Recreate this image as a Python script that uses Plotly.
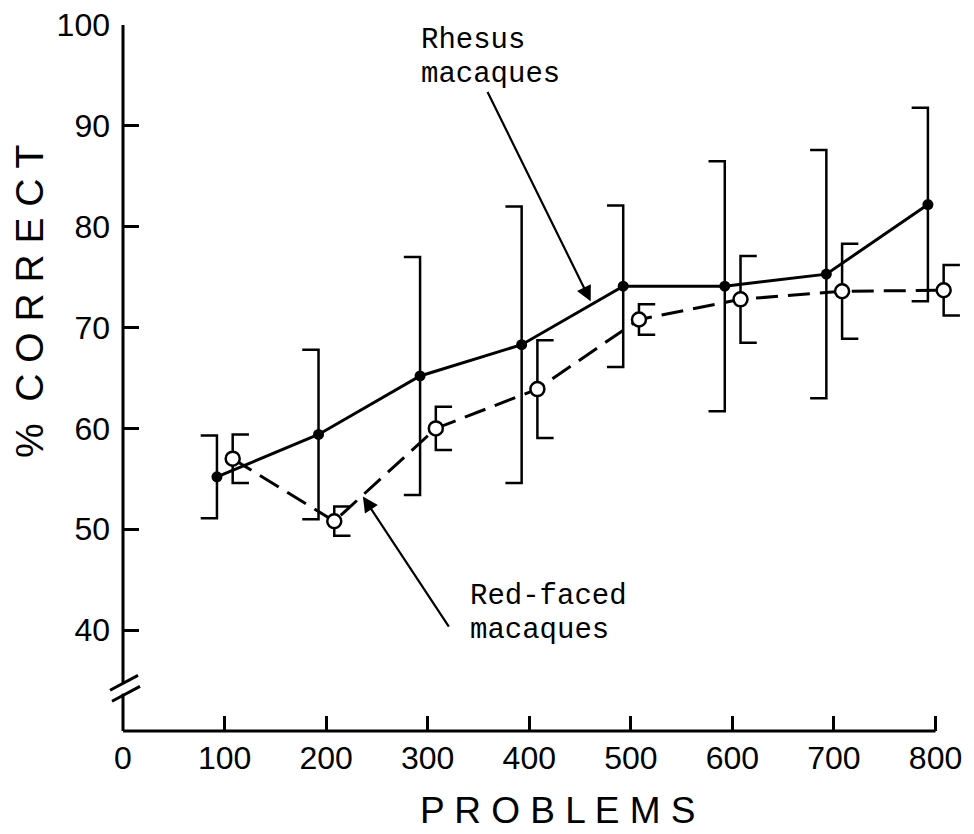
import plotly.graph_objects as go

# ---------------- data ----------------
problems = [100, 200, 300, 400, 500, 600, 700, 800]
rhesus_mean = [55.2, 59.4, 65.2, 68.3, 74.1, 74.1, 75.3, 82.2]
rhesus_err = [4.1, 8.4, 11.8, 13.7, 8.0, 12.4, 12.3, 9.6]
redfaced_mean = [57.0, 50.8, 60.0, 63.9, 70.8, 72.8, 73.6, 73.7]
redfaced_err = [2.4, 1.45, 2.15, 4.85, 1.5, 4.3, 4.7, 2.5]
x_tick_vals = [0, 100, 200, 300, 400, 500, 600, 700, 800]
x_tick_text = ["0", "100", "200", "300", "400", "500", "600", "700", "800"]
y_tick_vals = [40, 50, 60, 70, 80, 90, 100]
y_tick_text = ["40", "50", "60", "70", "80", "90", "100"]

# ---------------- style / geometry ----------------
XR = [0, 830]
YR = [30, 100]
ML, MR, MT, MB = 123, 7.5, 20, 103
W, H = 974, 834
PW = W - ML - MR
PH = H - MT - MB
RHESUS_SHIFT = -7.5   # horizontal display offsets so the two series don't overlap
RED_SHIFT = 8
CAP = 16

TICKFONT = dict(family="Liberation Sans, Arial, sans-serif", size=32, color="black")
MONO = dict(family="Liberation Mono, Courier New, monospace", size=29, color="black")
XTITLEFONT = dict(family="Liberation Sans, Arial, sans-serif", size=37, color="black")
YTITLEFONT = dict(family="Liberation Sans, Arial, sans-serif", size=39, color="black")


def xpaper(v):
    return (v - XR[0]) / (XR[1] - XR[0])


def ypaper(v):
    return (v - YR[0]) / (YR[1] - YR[0])


def px_x(p):
    return (p - ML) / PW


def px_y(p):
    return (H - MB - p) / PH


def bracket(xs, ys, es, cap):
    bx, by = [], []
    for x, y, e in zip(xs, ys, es):
        bx += [x + cap, x, x, x + cap, None]
        by += [y + e, y + e, y - e, y - e, None]
    return bx, by


rx = [p + RHESUS_SHIFT for p in problems]
fx = [p + RED_SHIFT for p in problems]

fig = go.Figure()

bx, by = bracket(rx, rhesus_mean, rhesus_err, -CAP)
fig.add_trace(go.Scatter(x=bx, y=by, mode="lines", line=dict(color="black", width=2.5),
                         hoverinfo="skip", cliponaxis=False))
bx, by = bracket(fx, redfaced_mean, redfaced_err, CAP)
fig.add_trace(go.Scatter(x=bx, y=by, mode="lines", line=dict(color="black", width=2.5),
                         hoverinfo="skip", cliponaxis=False))

fig.add_trace(go.Scatter(
    x=fx, y=redfaced_mean, mode="lines+markers", name="Red-faced macaques",
    line=dict(color="black", width=3, dash="22px,10px"),
    marker=dict(symbol="circle", size=14, color="white", line=dict(color="black", width=2.5)),
    cliponaxis=False))
fig.add_trace(go.Scatter(
    x=rx, y=rhesus_mean, mode="lines+markers", name="Rhesus macaques",
    line=dict(color="black", width=3),
    marker=dict(symbol="circle", size=11, color="black"),
    cliponaxis=False))

# axis lines (with a break on the y axis)
brk_lo, brk_hi = 33.7, 34.7
shapes = [
    dict(type="line", xref="paper", yref="paper", x0=0, x1=xpaper(800), y0=0, y1=0,
         line=dict(color="black", width=3)),
    dict(type="line", xref="paper", yref="paper", x0=0, x1=0, y0=0, y1=ypaper(brk_lo),
         line=dict(color="black", width=3)),
    dict(type="line", xref="paper", yref="paper", x0=0, x1=0, y0=ypaper(brk_hi), y1=1,
         line=dict(color="black", width=3)),
    dict(type="line", xref="paper", yref="paper", x0=px_x(110), x1=px_x(138),
         y0=px_y(690), y1=px_y(675), line=dict(color="black", width=3)),
    dict(type="line", xref="paper", yref="paper", x0=px_x(112), x1=px_x(140),
         y0=px_y(701), y1=px_y(686), line=dict(color="black", width=3)),
]

annotations = [
    dict(text="Rhesus", xref="paper", yref="paper", x=px_x(419), y=px_y(36),
         xanchor="left", yanchor="middle", showarrow=False, font=MONO),
    dict(text="macaques", xref="paper", yref="paper", x=px_x(419), y=px_y(70),
         xanchor="left", yanchor="middle", showarrow=False, font=MONO),
    dict(text="Red-faced", xref="paper", yref="paper", x=px_x(468), y=px_y(596),
         xanchor="left", yanchor="middle", showarrow=False, font=MONO),
    dict(text="macaques", xref="paper", yref="paper", x=px_x(468), y=px_y(630),
         xanchor="left", yanchor="middle", showarrow=False, font=MONO),
    # arrows
    dict(text="", x=460.5, y=72.6, ax=358.2, ay=93.5, xref="x", yref="y", axref="x", ayref="y",
         showarrow=True, arrowhead=2, arrowsize=1.4, arrowwidth=2.2, arrowcolor="black"),
    dict(text="", x=236.2, y=53.25, ax=321.8, ay=40.2, xref="x", yref="y", axref="x", ayref="y",
         showarrow=True, arrowhead=2, arrowsize=1.4, arrowwidth=2.2, arrowcolor="black"),
    # axis titles
    dict(text="P R O B L E M S", xref="paper", yref="paper", x=px_x(558), y=px_y(811),
         xanchor="center", yanchor="middle", showarrow=False, font=XTITLEFONT),
    dict(text="%\u00a0 C O R R E C T", xref="paper", yref="paper", x=px_x(29), y=px_y(298),
         xanchor="center", yanchor="middle", showarrow=False, textangle=-90, font=YTITLEFONT),
]

fig.update_layout(
    width=W, height=H,
    margin=dict(l=ML, r=MR, t=MT, b=MB),
    plot_bgcolor="white", paper_bgcolor="white",
    showlegend=False,
    shapes=shapes,
    annotations=annotations,
    xaxis=dict(range=XR, tickvals=x_tick_vals, ticktext=x_tick_text, ticks="inside",
               ticklen=15, tickwidth=2.5, tickcolor="black", showgrid=False, zeroline=False,
               showline=False, tickfont=TICKFONT, ticklabelstandoff=5),
    yaxis=dict(range=YR, tickvals=y_tick_vals, ticktext=y_tick_text, ticks="inside",
               ticklen=16, tickwidth=2.5, tickcolor="black", showgrid=False, zeroline=False,
               showline=False, tickfont=TICKFONT, ticklabelstandoff=12),
)

fig.write_html("out.html")
